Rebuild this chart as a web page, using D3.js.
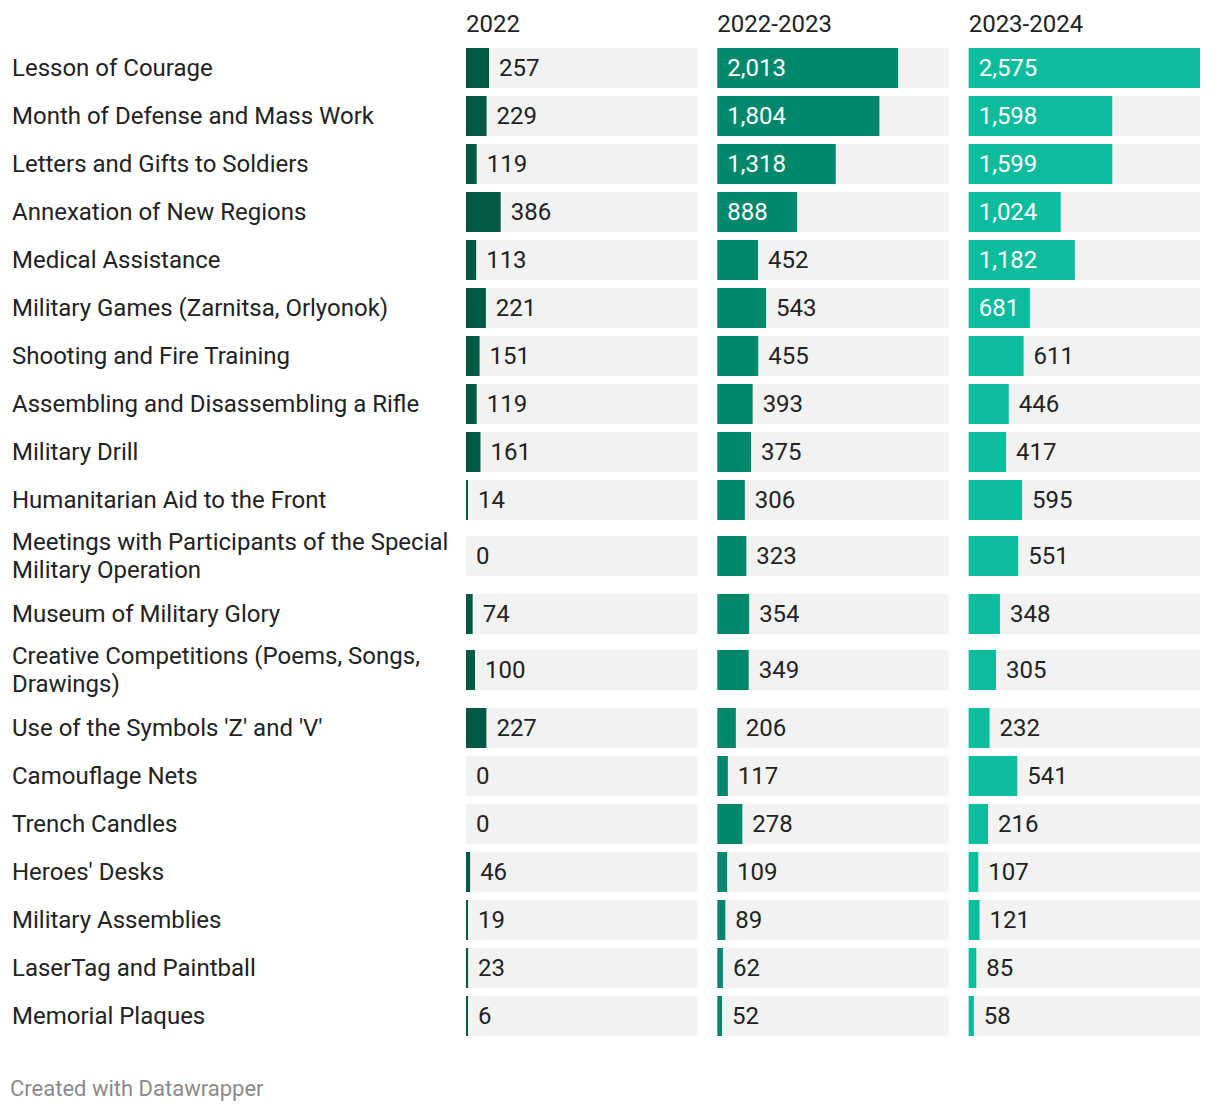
<!DOCTYPE html>
<html>
<head>
<meta charset="utf-8">
<script src="https://cdn.jsdelivr.net/npm/d3@7"></script>
<style>
  html, body { margin: 0; padding: 0; background: #fff; }
  svg { display: block; font-family: Roboto, "Noto Sans", sans-serif; }
</style>
</head>
<body>
<svg id="chart" width="1220" height="1112"></svg>
<script>
const categories = [
  "Lesson of Courage",
  "Month of Defense and Mass Work",
  "Letters and Gifts to Soldiers",
  "Annexation of New Regions",
  "Medical Assistance",
  "Military Games (Zarnitsa, Orlyonok)",
  "Shooting and Fire Training",
  "Assembling and Disassembling a Rifle",
  "Military Drill",
  "Humanitarian Aid to the Front",
  "Meetings with Participants of the Special Military Operation",
  "Museum of Military Glory",
  "Creative Competitions (Poems, Songs, Drawings)",
  "Use of the Symbols 'Z' and 'V'",
  "Camouflage Nets",
  "Trench Candles",
  "Heroes' Desks",
  "Military Assemblies",
  "LaserTag and Paintball",
  "Memorial Plaques"
];
const seriesNames = ["2022", "2022-2023", "2023-2024"];
const values2022 = [257, 229, 119, 386, 113, 221, 151, 119, 161, 14, 0, 74, 100, 227, 0, 0, 46, 19, 23, 6];
const values2223 = [2013, 1804, 1318, 888, 452, 543, 455, 393, 375, 306, 323, 354, 349, 206, 117, 278, 109, 89, 62, 52];
const values2324 = [2575, 1598, 1599, 1024, 1182, 681, 611, 446, 417, 595, 551, 348, 305, 232, 541, 216, 107, 121, 85, 58];
const seriesValues = [values2022, values2223, values2324];
const seriesColors = ["#005a43", "#00876c", "#0bbc9d"];

(function () {
const svg = d3.select("#chart");
const fontSize = 24;
const labelX = 12;
const labelMaxW = 446;
const colStart = 466, colEnd = 1200, colGap = 20;
const colW = (colEnd - colStart - colGap * 2) / 3;
const barH = 40;
const lineH = 28;
const startY = 44;

const x = d3.scaleLinear().domain([0, d3.max(seriesValues.flat())]).range([0, colW]);
const fmt = d3.format(",");

// wrap labels
const measure = svg.append("text").attr("font-size", fontSize).attr("visibility", "hidden");
function textW(s) { measure.text(s); return measure.node().getComputedTextLength(); }
const wrapped = categories.map(c => {
  const words = c.split(" ");
  const lines = [];
  let cur = "";
  words.forEach(w => {
    const t = cur ? cur + " " + w : w;
    if (textW(t) > labelMaxW && cur) { lines.push(cur); cur = w; }
    else cur = t;
  });
  lines.push(cur);
  return lines;
});

// row layout
const rowH = wrapped.map(l => 48 + 18 * (l.length - 1));
const rowY = [];
let acc = startY;
wrapped.forEach((l, i) => { rowY.push(acc + 24 + 8 * (l.length - 1)); acc += rowH[i]; });

// headers
svg.selectAll("text.header").data(seriesNames).join("text")
  .attr("class", "header")
  .attr("x", (d, i) => colStart + i * (colW + colGap))
  .attr("y", 32)
  .attr("font-size", fontSize)
  .attr("fill", "#222")
  .text(d => d);

// labels
const lab = svg.selectAll("text.label").data(wrapped).join("text")
  .attr("class", "label")
  .attr("font-size", fontSize)
  .attr("fill", "#222");
lab.each(function(lines, i) {
  const t = d3.select(this);
  const n = lines.length;
  lines.forEach((ln, k) => {
    t.append("tspan")
      .attr("x", labelX)
      .attr("y", rowY[i] + (k - (n - 1) / 2) * lineH)
      .attr("dy", "0.35em")
      .text(ln);
  });
});

// columns
seriesValues.forEach((vals, s) => {
  const g = svg.append("g").attr("transform", `translate(${colStart + s * (colW + colGap)},0)`);
  g.selectAll("rect.bg").data(vals).join("rect")
    .attr("class", "bg")
    .attr("x", 0)
    .attr("y", (d, i) => rowY[i] - barH / 2)
    .attr("width", colW)
    .attr("height", barH)
    .attr("fill", "#f2f2f2");
  g.selectAll("rect.bar").data(vals).join("rect")
    .attr("class", "bar")
    .attr("x", 0)
    .attr("y", (d, i) => rowY[i] - barH / 2)
    .attr("width", d => d > 0 ? Math.max(2, x(d)) : 0)
    .attr("height", barH)
    .attr("fill", seriesColors[s]);
  g.selectAll("text.val").data(vals).join("text")
    .attr("class", "val")
    .attr("font-size", fontSize)
    .attr("y", (d, i) => rowY[i])
    .attr("dy", "0.35em")
    .text(d => fmt(d))
    .each(function(d) {
      const tw = this.getComputedTextLength();
      const bw = d > 0 ? Math.max(2, x(d)) : 0;
      const inside = bw >= tw + 20;
      d3.select(this)
        .attr("x", inside ? 10 : bw + 10)
        .attr("fill", inside ? "#fff" : "#222");
    });
});

measure.remove();

// footer
svg.append("text")
  .attr("x", 10)
  .attr("y", 1096)
  .attr("font-size", 22)
  .attr("fill", "#8a8a8a")
  .text("Created with Datawrapper");
})();
</script>
</body>
</html>
